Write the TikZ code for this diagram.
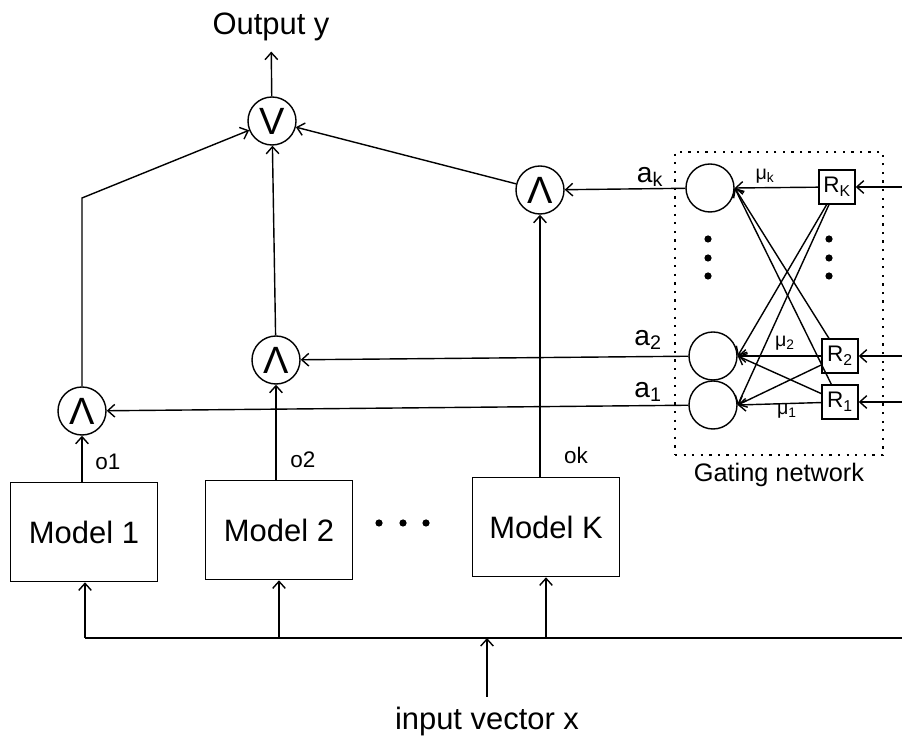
\documentclass[tikz,border=0pt]{standalone}
\usepackage{fontspec}
\setmainfont{Liberation Sans}
\usetikzlibrary{arrows.meta, positioning}

\begin{document}
\begin{tikzpicture}[x=0.025cm, y=-0.025cm,
    op/.style={circle, draw, line width=1pt, minimum size=1.2cm, inner sep=0pt, font=\fontsize{27}{27}\selectfont},
    model/.style={rectangle, draw, line width=1pt, minimum width=3.68cm, minimum height=2.48cm, font=\fontsize{22}{26}\selectfont},
    gc/.style={circle, draw, line width=1pt, minimum size=1.2cm, inner sep=0pt},
    rbox/.style={rectangle, draw, line width=1pt, minimum width=0.9cm, minimum height=0.85cm, inner sep=0pt, font=\fontsize{16}{18}\selectfont},
    lbl/.style={font=\fontsize{16}{18}\selectfont, inner sep=1pt},
    alb/.style={font=\fontsize{20}{22}\selectfont, inner sep=1pt},
    mul/.style={font=\fontsize{14}{16}\selectfont, inner sep=1pt},
    big/.style={font=\fontsize{22}{26}\selectfont},
    arrow/.style={-{Straight Barb[length=5pt, width=9pt]}, line width=1pt}
]
\useasboundingbox (0,0) rectangle (902,740);

% combining part
\node[big] (out) at (271,27) {Output y};
\node[op] (orn) at (272,121) {V};
\node[op] (and1) at (82,411) {Λ};
\node[op] (and2) at (276,360) {Λ};
\node[op] (andk) at (540,190) {Λ};

% experts
\node[model] (m1) at (84,532) {Model 1};
\node[model] (m2) at (279,530) {Model 2};
\node[model] (mk) at (546,527) {Model K};
\foreach \x in {379,403,426} \fill (\x,523) circle (0.09cm);

\node[lbl] (o1) at (108,462) {o1};
\node[lbl] (o2) at (303,460) {o2};
\node[lbl] (ok) at (576,455) {ok};

% input bus
\coordinate (bl) at (85,638);
\coordinate (br) at (902,638);
\coordinate (bx) at (487,638);
\coordinate (inx) at (487,697);
\node[big] (inlbl) at (487,722) {input vector x};
\draw[line width=1pt] (bl) -- (br);
\draw[arrow] (inx) -- (bx);
\draw[arrow] (bl) -- (bl |- m1.south);
\draw[arrow] (m2.south |- bl) -- (m2.south);
\draw[arrow] (mk.south |- bl) -- (mk.south);

\draw[arrow] (m1.north -| and1) -- (and1);
\draw[arrow] (m2.north -| and2) -- (and2);
\draw[arrow] (mk.north -| andk) -- (andk);

\coordinate (c1) at (82,198);
\draw[arrow] (and1.north) -- (c1) -- (orn);
\draw[arrow] (and2) -- (orn);
\draw[arrow] (andk) -- (orn);
\draw[arrow, shorten >=4pt] (orn) -- (out);

% gating network
\node[draw, line width=1.6pt, dash pattern=on 1.6pt off 4.5pt, minimum width=5.2cm, minimum height=7.57cm] (gbox) at (779,303.5) {};
\node[font=\fontsize{18}{20}\selectfont, below=0.05cm of gbox] (glbl) {Gating network};

\node[gc] (gk) at (710,188) {};
\node[gc] (g2) at (713,356) {};
\node[gc] (g1) at (713,405) {};
\node[rbox] (rk) at (837,187) {R\textsubscript{K}};
\node[rbox] (r2) at (840,356) {R\textsubscript{2}};
\node[rbox] (r1) at (840,402) {R\textsubscript{1}};
\foreach \y in {239,258,276} {
  \fill (708,\y) circle (0.09cm);
  \fill (829,\y) circle (0.09cm);
}

\coordinate (ink) at (902,187);
\coordinate (in2) at (902,356);
\coordinate (in1) at (902,402);
\draw[arrow] (ink) -- (rk);
\draw[arrow] (in2) -- (r2);
\draw[arrow] (in1) -- (r1);

\foreach \r in {rk,r2,r1}
  \foreach \g in {gk,g2,g1}
    \draw[arrow] (\r) -- (\g.east);

\node[mul] (muk) at (765,176) {μ\textsubscript{k}};
\node[mul] (mu2) at (785,343) {μ\textsubscript{2}};
\node[mul] (mu1) at (787,411) {μ\textsubscript{1}};

\draw[arrow] (gk) -- (andk);
\draw[arrow] (g2) -- (and2);
\draw[arrow] (g1) -- (and1);
\node[alb] (ak) at (650,177) {a\textsubscript{k}};
\node[alb] (a2) at (648,340) {a\textsubscript{2}};
\node[alb] (a1) at (648,392) {a\textsubscript{1}};
\end{tikzpicture}
\end{document}
